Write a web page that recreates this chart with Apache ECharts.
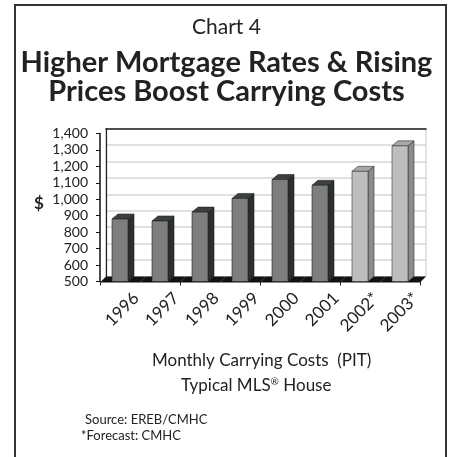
<!DOCTYPE html>
<html>
<head>
<meta charset="utf-8">
<script src="https://cdn.jsdelivr.net/npm/echarts@6/dist/echarts.min.js"></script>
<style>
  html, body { margin: 0; padding: 0; background: #fff; }
  #chart { width: 453px; height: 457px; }
</style>
</head>
<body>
<div id="chart"></div>
<script>
// data
const years = ['1996', '1997', '1998', '1999', '2000', '2001', '2002*', '2003*'];
const costs = [880, 868, 922, 1005, 1120, 1085, 1170, 1325];
const forecast = [0, 0, 0, 0, 0, 0, 1, 1];
const yTicks = [500, 1400, 100]; // min, max, interval

const DX = 6, DY = 5; // 3d depth

const chart = echarts.init(document.getElementById('chart'));

function fmt(v) {
  return v >= 1000 ? Math.floor(v / 1000) + ',' + String(v % 1000).padStart(3, '0') : String(v);
}

/* bars: front face + side + top */
function renderBar(params, api) {
  const i = api.value(0);
  const top = api.coord([i, api.value(1)]);
  const base = api.coord([i, yTicks[0]]);
  const bw = api.size([1, 0])[0];
  const w = bw * 0.4;
  const x0 = top[0] - w / 2, x1 = top[0] + w / 2;
  const fc = forecast[i];
  const front = fc ? '#bebebe' : '#7e7e80';
  const side = fc ? '#8c8c8c' : '#2a2f2f';
  const lid = fc ? '#a8a8a8' : '#3c4040';
  const stroke = fc ? '#333' : '#222';
  return {
    type: 'group',
    children: [
      {type: 'polygon', shape: {points: [[x1, top[1]], [x1 + DX, top[1] - DY], [x1 + DX, base[1] - DY], [x1, base[1]]]},
        style: {fill: side, stroke: stroke, lineWidth: 0.6}},
      {type: 'polygon', shape: {points: [[x0, top[1]], [x1, top[1]], [x1 + DX, top[1] - DY], [x0 + DX, top[1] - DY]]},
        style: {fill: lid, stroke: stroke, lineWidth: 0.6}},
      {type: 'rect', shape: {x: x0, y: top[1], width: w, height: base[1] - top[1]},
        style: {fill: front, stroke: stroke, lineWidth: 0.6}}
    ]
  };
}

/* black floor slab */
function renderFloor(params, api) {
  const i = api.value(0);
  const p = api.coord([i, yTicks[0]]);
  const bw = api.size([1, 0])[0];
  const l = p[0] - bw / 2, r = p[0] + bw / 2;
  return {
    type: 'polygon',
    shape: {points: [[l, p[1] + 1], [r, p[1] + 1], [r + DX, p[1] - DY], [l + DX, p[1] - DY]]},
    style: {fill: '#111'}
  };
}

const barData = costs.map((v, i) => [i, v]);
const txt = (size, weight) => ({fontSize: size, fontWeight: weight || 'normal', color: '#222', fontFamily: 'Lato'});

chart.setOption({
  animation: false,
  textStyle: {fontFamily: 'Lato', color: '#222'},
  graphic: [
    {type: 'rect', shape: {x: 15, y: 5, width: 431, height: 470}, style: {fill: 'none', stroke: '#333', lineWidth: 2}, z: 100}
  ],
  title: [
    {text: 'Chart 4', left: 'center', top: 12, textStyle: txt(21)},
    {text: 'Higher Mortgage Rates & Rising', left: 'center', top: 43, textStyle: txt(29, 'bold')},
    {text: 'Prices Boost Carrying Costs', left: 'center', top: 72, textStyle: txt(29, 'bold')},
    {text: '$', left: 29, top: 190, textStyle: txt(17, 'bold')},
    {text: 'Monthly Carrying Costs  (PIT)', left: 147, top: 347, textStyle: txt(17)},
    {text: 'Typical MLS{sup|®} House', left: 176, top: 372,
      textStyle: Object.assign(txt(17), {rich: {sup: {fontSize: 10, verticalAlign: 'top', padding: [0, 0, 8, 0], color: '#222', fontFamily: 'Lato'}}})},
    {text: 'Source: EREB/CMHC', left: 80, top: 408, textStyle: txt(13)},
    {text: '*Forecast: CMHC', left: 76, top: 424, textStyle: txt(13)}
  ],
  grid: [
    // front plane
    {left: 100, top: 133.5, width: 320, height: 148},
    // back wall
    {left: 100 + DX, top: 133.5 - DY, width: 320, height: 148, show: true, borderColor: '#c8c8c8', borderWidth: 1},
    // label row (labels sit a little right of the bars)
    {left: 116, top: 133.5, width: 320, height: 148}
  ],
  xAxis: [
    {
      gridIndex: 0, type: 'category', data: years,
      axisLine: {show: false},
      axisTick: {show: true, length: 4, lineStyle: {color: '#222'}},
      axisLabel: {show: false}
    },
    {
      gridIndex: 1, type: 'category', data: years, position: 'top',
      axisLine: {show: true, lineStyle: {color: '#222', width: 1.5}},
      axisTick: {show: false}, axisLabel: {show: false}
    },
    {
      gridIndex: 2, type: 'category', data: years,
      axisLine: {show: false}, axisTick: {show: false},
      axisLabel: {rotate: 45, margin: 14, fontSize: 17, color: '#222', fontFamily: 'Lato'}
    }
  ],
  yAxis: [
    {
      gridIndex: 0, type: 'value', min: yTicks[0], max: yTicks[1], interval: yTicks[2],
      axisLine: {show: true, lineStyle: {color: '#111', width: 1.5}},
      axisTick: {show: true, length: 4, lineStyle: {color: '#111'}},
      splitLine: {show: false},
      axisLabel: {margin: 12, fontSize: 14, color: '#222', fontFamily: 'Lato', formatter: fmt}
    },
    {
      gridIndex: 1, type: 'value', min: yTicks[0], max: yTicks[1], interval: yTicks[2],
      axisLine: {show: true, lineStyle: {color: '#222', width: 1.2}},
      axisTick: {show: false}, axisLabel: {show: false},
      splitLine: {show: true, lineStyle: {color: '#d6d6d6', width: 1.5}}
    },
    {
      gridIndex: 2, type: 'value', min: yTicks[0], max: yTicks[1], show: false
    }
  ],
  series: [
    {type: 'custom', xAxisIndex: 0, yAxisIndex: 0, renderItem: renderFloor, data: barData, z: 2},
    {type: 'custom', xAxisIndex: 0, yAxisIndex: 0, renderItem: renderBar, data: barData, z: 3}
  ]
});
</script>
</body>
</html>
